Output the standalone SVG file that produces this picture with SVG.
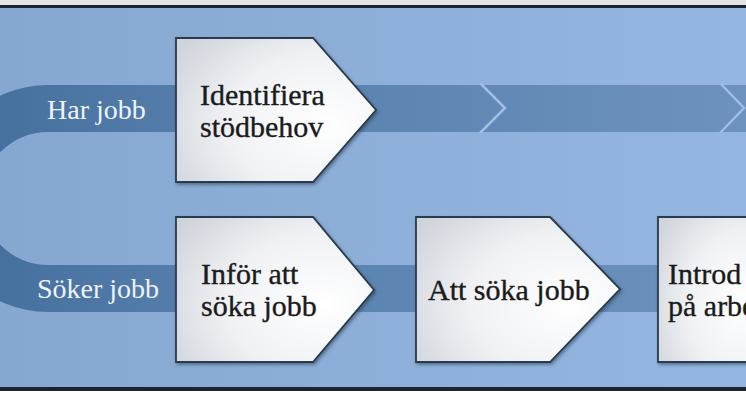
<svg xmlns="http://www.w3.org/2000/svg" width="746" height="419" viewBox="0 0 746 419">
  <defs>
    <linearGradient id="bg" x1="0" y1="0" x2="1" y2="0">
      <stop offset="0" stop-color="#86a7cf"/>
      <stop offset="1" stop-color="#94b6e1"/>
    </linearGradient>
    <linearGradient id="band" x1="0" y1="0" x2="746" y2="0" gradientUnits="userSpaceOnUse">
      <stop offset="0" stop-color="#46709e"/>
      <stop offset="0.3" stop-color="#5780ad"/>
      <stop offset="1" stop-color="#6d92bd"/>
    </linearGradient>
    <radialGradient id="boxfill" cx="0.75" cy="0.6" r="0.9">
      <stop offset="0" stop-color="#ffffff"/>
      <stop offset="0.55" stop-color="#eff1f4"/>
      <stop offset="1" stop-color="#cfd4db"/>
    </radialGradient>
    <filter id="shadow" x="-10%" y="-10%" width="130%" height="130%">
      <feDropShadow dx="1.5" dy="2" stdDeviation="1.5" flood-color="#1f3550" flood-opacity="0.5"/>
    </filter>
  </defs>
  <style>
    .box { fill: url(#boxfill); stroke: #2b3a4c; stroke-width: 1.8; filter: url(#shadow); }
    .txt { font-family: "Liberation Serif", "Times New Roman", serif; font-size: 30px; fill: #1b1b1b; stroke: #1b1b1b; stroke-width: 0.35; }
    .lbl { font-family: "Liberation Serif", "Times New Roman", serif; font-size: 28px; fill: #eef3fa; }
    .chev { fill: none; stroke: #a2bee2; stroke-width: 2.5; }
  </style>

  <!-- frame / background -->
  <rect x="0" y="0" width="746" height="419" fill="#ffffff"/>
  <rect x="0" y="0" width="746" height="6" fill="#e4e5e7"/>
  <rect x="0" y="8" width="746" height="380" fill="url(#bg)"/>
  <rect x="0" y="5" width="746" height="3" fill="#1b2430"/>
  <rect x="0" y="387" width="746" height="4" fill="#1b2430"/>

  <g id="connectors">
    <path d="M746,85 H48 A113.5,113.5 0 0 0 48,312 H746 V265 H48 A66.5,66.5 0 0 1 48,132 H746 Z" fill="url(#band)"/>
    <polyline class="chev" points="480,83 505,108 480,133"/>
    <polyline class="chev" points="720,83 744,108 720,133"/>
    <text class="lbl" x="47" y="119">Har jobb</text>
    <text class="lbl" x="37" y="298">Söker jobb</text>
  </g>

  <g id="node-identifiera">
    <path class="box" d="M176,38 H313 L376,110 L313,182 H176 Z"/>
    <text class="txt" x="200" y="105">Identifiera</text>
    <text class="txt" x="200" y="137">stödbehov</text>
  </g>

  <g id="node-infor">
    <path class="box" d="M176,217 H313 L374,290 L313,362 H176 Z"/>
    <text class="txt" x="201" y="284">Inför att</text>
    <text class="txt" x="201" y="316">söka jobb</text>
  </g>

  <g id="node-soka">
    <path class="box" d="M416,217 H550 L620,289 L550,362 H416 Z"/>
    <text class="txt" x="428" y="300">Att söka jobb</text>
  </g>

  <g id="node-intro">
    <path class="box" d="M658,217 H770 V362 H658 Z"/>
    <text class="txt" x="668" y="284">Introd</text>
    <text class="txt" x="668" y="316">på arbe</text>
  </g>
</svg>
